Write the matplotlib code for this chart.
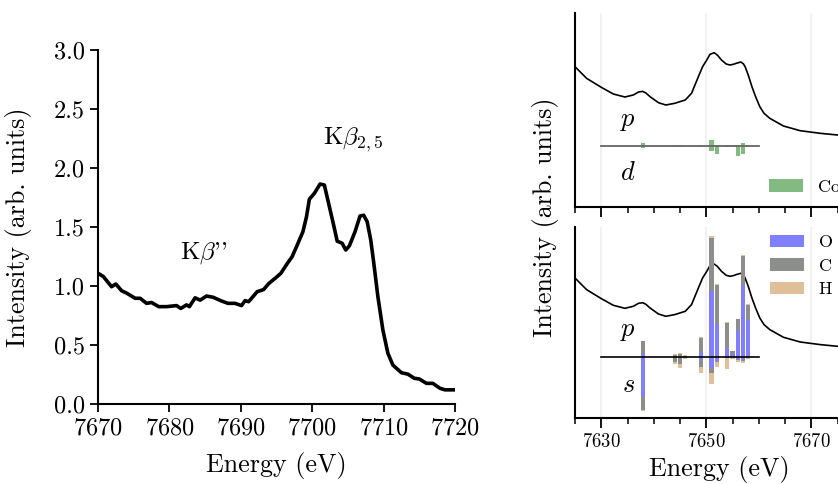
import numpy as np
import matplotlib
matplotlib.use("Agg")
import matplotlib.pyplot as plt
from matplotlib.ticker import MultipleLocator, FormatStrFormatter

plt.rcParams.update({
    "font.family": "serif",
    "font.serif": ["cmr10", "DejaVu Serif"],
    "mathtext.fontset": "cm",
    "axes.formatter.use_mathtext": True,
    "axes.linewidth": 1.5,
    "axes.unicode_minus": False,
})

# --- experimental spectrum (left panel) ---
E_exp = [7670.0, 7670.75, 7671.9, 7672.5, 7673.3, 7674.0, 7675.2, 7675.9, 7676.8, 7677.5,
         7678.5, 7679.6, 7681.0, 7681.6, 7682.4, 7682.8, 7683.6, 7684.3, 7685.2, 7686.1,
         7687.3, 7688.2, 7689.2, 7690.1, 7690.6, 7691.1, 7692.3, 7693.2, 7693.9, 7694.9,
         7695.6, 7696.5, 7697.2, 7697.9, 7698.7, 7699.2, 7699.6, 7700.3, 7701.1, 7701.7,
         7702.3, 7703.0, 7703.5, 7704.2, 7704.7, 7705.2, 7706.0, 7706.7, 7707.2, 7707.7,
         7708.2, 7708.6, 7709.2, 7709.9, 7710.6, 7711.3, 7712.5, 7713.4, 7714.3, 7715.0,
         7716.0, 7716.9, 7717.9, 7718.6, 7719.8, 7720.0]
I_exp = [1.108, 1.08, 0.994, 1.017, 0.96, 0.94, 0.896, 0.896, 0.853, 0.86,
         0.825, 0.825, 0.834, 0.81, 0.84, 0.825, 0.90, 0.88, 0.915, 0.905,
         0.873, 0.853, 0.853, 0.834, 0.876, 0.867, 0.952, 0.97, 1.02, 1.07,
         1.107, 1.19, 1.25, 1.347, 1.46, 1.587, 1.735, 1.785, 1.864, 1.856,
         1.70, 1.517, 1.38, 1.362, 1.305, 1.34, 1.46, 1.593, 1.60, 1.545,
         1.39, 1.206, 0.91, 0.627, 0.43, 0.33, 0.265, 0.253, 0.218, 0.212,
         0.175, 0.175, 0.133, 0.12, 0.12, 0.12]

# --- calculated spectrum (right panels) ---
E_calc = [7625.0, 7627.2, 7630.0, 7632.3, 7634.5, 7636.1, 7637.1, 7637.9, 7638.5, 7639.3,
          7640.9, 7642.3, 7644.0, 7646.0, 7647.2, 7648.5, 7649.3, 7650.1, 7650.7, 7651.5,
          7652.1, 7652.9, 7653.8, 7654.5, 7655.2, 7655.7, 7656.6, 7657.1, 7657.4, 7658.0,
          7658.7, 7659.4, 7660.2, 7661.0, 7662.1, 7664.7, 7667.9, 7671.7, 7675.0, 7680.0]
I_calc = [0.79, 0.674, 0.584, 0.517, 0.487, 0.507, 0.537, 0.543, 0.527, 0.49,
          0.43, 0.407, 0.424, 0.457, 0.524, 0.69, 0.79, 0.857, 0.913, 0.93,
          0.907, 0.857, 0.817, 0.807, 0.814, 0.824, 0.837, 0.817, 0.79, 0.707,
          0.59, 0.49, 0.39, 0.324, 0.274, 0.197, 0.15, 0.124, 0.107, 0.095]

# --- stick transitions ---
E_sticks = [7638, 7644, 7645, 7646, 7649, 7651, 7652, 7654, 7655, 7656, 7657, 7658]
Co_p = [0.027, 0.007, 0.007, 0.0, 0.007, 0.06, 0.01, 0.003, 0.003, 0.003, 0.023, 0.007]
Co_d = [0.02, 0.007, 0.007, 0.0, 0.007, 0.053, 0.087, 0.01, 0.003, 0.103, 0.08, 0.007]
O_p = [0.030, 0.0, 0.0, 0.0, 0.047, 0.657, 0.333, 0.093, 0.027, 0.257, 0.717, 0.370]
C_p = [0.133, 0.023, 0.030, 0.010, 0.143, 0.537, 0.390, 0.247, 0.030, 0.127, 0.297, 0.147]
H_p = [0.0, 0.010, 0.013, 0.007, 0.007, 0.013, 0.010, 0.010, 0.0, 0.0, 0.010, 0.010]
O_s = [0.387, 0.0, 0.0, 0.0, 0.033, 0.107, 0.043, 0.003, 0.0, 0.017, 0.033, 0.003]
C_s = [0.140, 0.053, 0.070, 0.010, 0.067, 0.053, 0.007, 0.005, 0.0, 0.017, 0.010, 0.010]
H_s = [0.010, 0.020, 0.043, 0.013, 0.060, 0.113, 0.050, 0.110, 0.020, 0.020, 0.020, 0.007]

cor_co = "#82ba82"
cor_o = "#8080ff"
cor_c = "#8c8e8c"
cor_h = "#e0c098"
largura = 0.8

fig = plt.figure(figsize=(8.38, 4.84), dpi=100)

# ============ left panel ============
ax = fig.add_axes([98/838, 1-404/484, 357/838, 354/484])
ax.plot(E_exp, I_exp, color="k", lw=2.6)
ax.set_xlim(7670, 7720)
ax.set_ylim(0, 3.0)
ax.xaxis.set_major_locator(MultipleLocator(10))
ax.yaxis.set_major_locator(MultipleLocator(0.5))
ax.yaxis.set_major_formatter(FormatStrFormatter("%.1f"))
ax.spines["top"].set_visible(False)
ax.spines["right"].set_visible(False)
ax.tick_params(direction="out", length=6, width=1.3, labelsize=17.5)
ax.set_xlabel("Energy (eV)", fontsize=18.7)
ax.set_ylabel("Intensity (arb. units)", fontsize=18.7)
ax.yaxis.set_label_coords(-0.185, 0.5)
ax.xaxis.set_label_coords(0.5, -0.135)
ax.text(7681.5, 1.28, r"K$\beta$''", fontsize=18, va="center")
ax.text(7701.5, 2.24, r"K$\beta_{2,5}$", fontsize=18, va="center")

# ============ right panels ============
x0 = 575/838
w = (7680 - 7625) * 5.25 / 838
ax1 = fig.add_axes([x0, 1-207/484, w, 194/484])
ax2 = fig.add_axes([x0, 1-418/484, w, 191/484], sharex=ax1)

E = np.array(E_sticks)
for a in (ax1, ax2):
    a.plot(E_calc, I_calc, color="k", lw=1.2, zorder=2)
    a.set_xlim(7625, 7680)
    a.xaxis.set_major_locator(MultipleLocator(20, offset=10))
    a.xaxis.set_minor_locator(MultipleLocator(5))
    a.grid(True, axis="x", which="major", color="#f2f2f2", lw=1.5, zorder=0)
    a.set_axisbelow(True)
    a.set_yticks([])
    a.spines["top"].set_visible(False)
    a.spines["right"].set_visible(False)
    a.tick_params(axis="x", which="major", direction="out", length=7, width=1.3, labelsize=13.5)
    a.tick_params(axis="x", which="minor", direction="out", length=4, width=1.1)

ax1.set_ylim(-0.613, 1.327)
ax2.set_ylim(-0.61, 1.30)

leg_kw = dict(frameon=False, fontsize=13, borderpad=0, borderaxespad=0,
              handlelength=1.9, handleheight=0.67, handletextpad=0.8,
              bbox_transform=fig.transFigure)

# top panel: Co
ax1.bar(E, Co_p, width=largura, color=cor_co, label="Co", zorder=3)
ax1.bar(E, -np.array(Co_d), width=largura, color=cor_co, zorder=3)
ax1.plot([7630, 7660], [0, 0], color="0.4", lw=1.3, zorder=4)
ax1.text(7635.1, 0.25, r"$p$", fontsize=19, ha="center", va="center")
ax1.text(7635.1, -0.27, r"$d$", fontsize=19, ha="center", va="center")
ax1.tick_params(axis="x", labelbottom=False)
ax1.legend(loc="center left", bbox_to_anchor=(769/838, 1-187/484), **leg_kw)

# bottom panel: O, C, H stacked
Op, Cp, Hp = np.array(O_p), np.array(C_p), np.array(H_p)
Os, Cs, Hs = np.array(O_s), np.array(C_s), np.array(H_s)
ax2.bar(E, Op, width=largura, color=cor_o, label="O", zorder=3)
ax2.bar(E, Cp, bottom=Op, width=largura, color=cor_c, label="C", zorder=3)
ax2.bar(E, Hp, bottom=Op + Cp, width=largura, color=cor_h, label="H", zorder=3)
ax2.bar(E, -Os, width=largura, color=cor_o, zorder=3)
ax2.bar(E, -Cs, bottom=-Os, width=largura, color=cor_c, zorder=3)
ax2.bar(E, -Hs, bottom=-(Os + Cs), width=largura, color=cor_h, zorder=3)
ax2.plot([7630, 7660], [0, 0], color="k", lw=1.2, zorder=4)
ax2.text(7635.1, 0.26, r"$p$", fontsize=19, ha="center", va="center")
ax2.text(7635.1, -0.28, r"$s$", fontsize=19, ha="center", va="center")
ax2.legend(loc="center left", bbox_to_anchor=(770/838, 1-266/484), labelspacing=0.44, **leg_kw)
ax2.set_xlabel("Energy (eV)", fontsize=18.7)

fig.text(545/838, 1-217/484, "Intensity (arb. units)", rotation=90, fontsize=18.7,
         ha="center", va="center")

fig.savefig("out.png", dpi=100)
